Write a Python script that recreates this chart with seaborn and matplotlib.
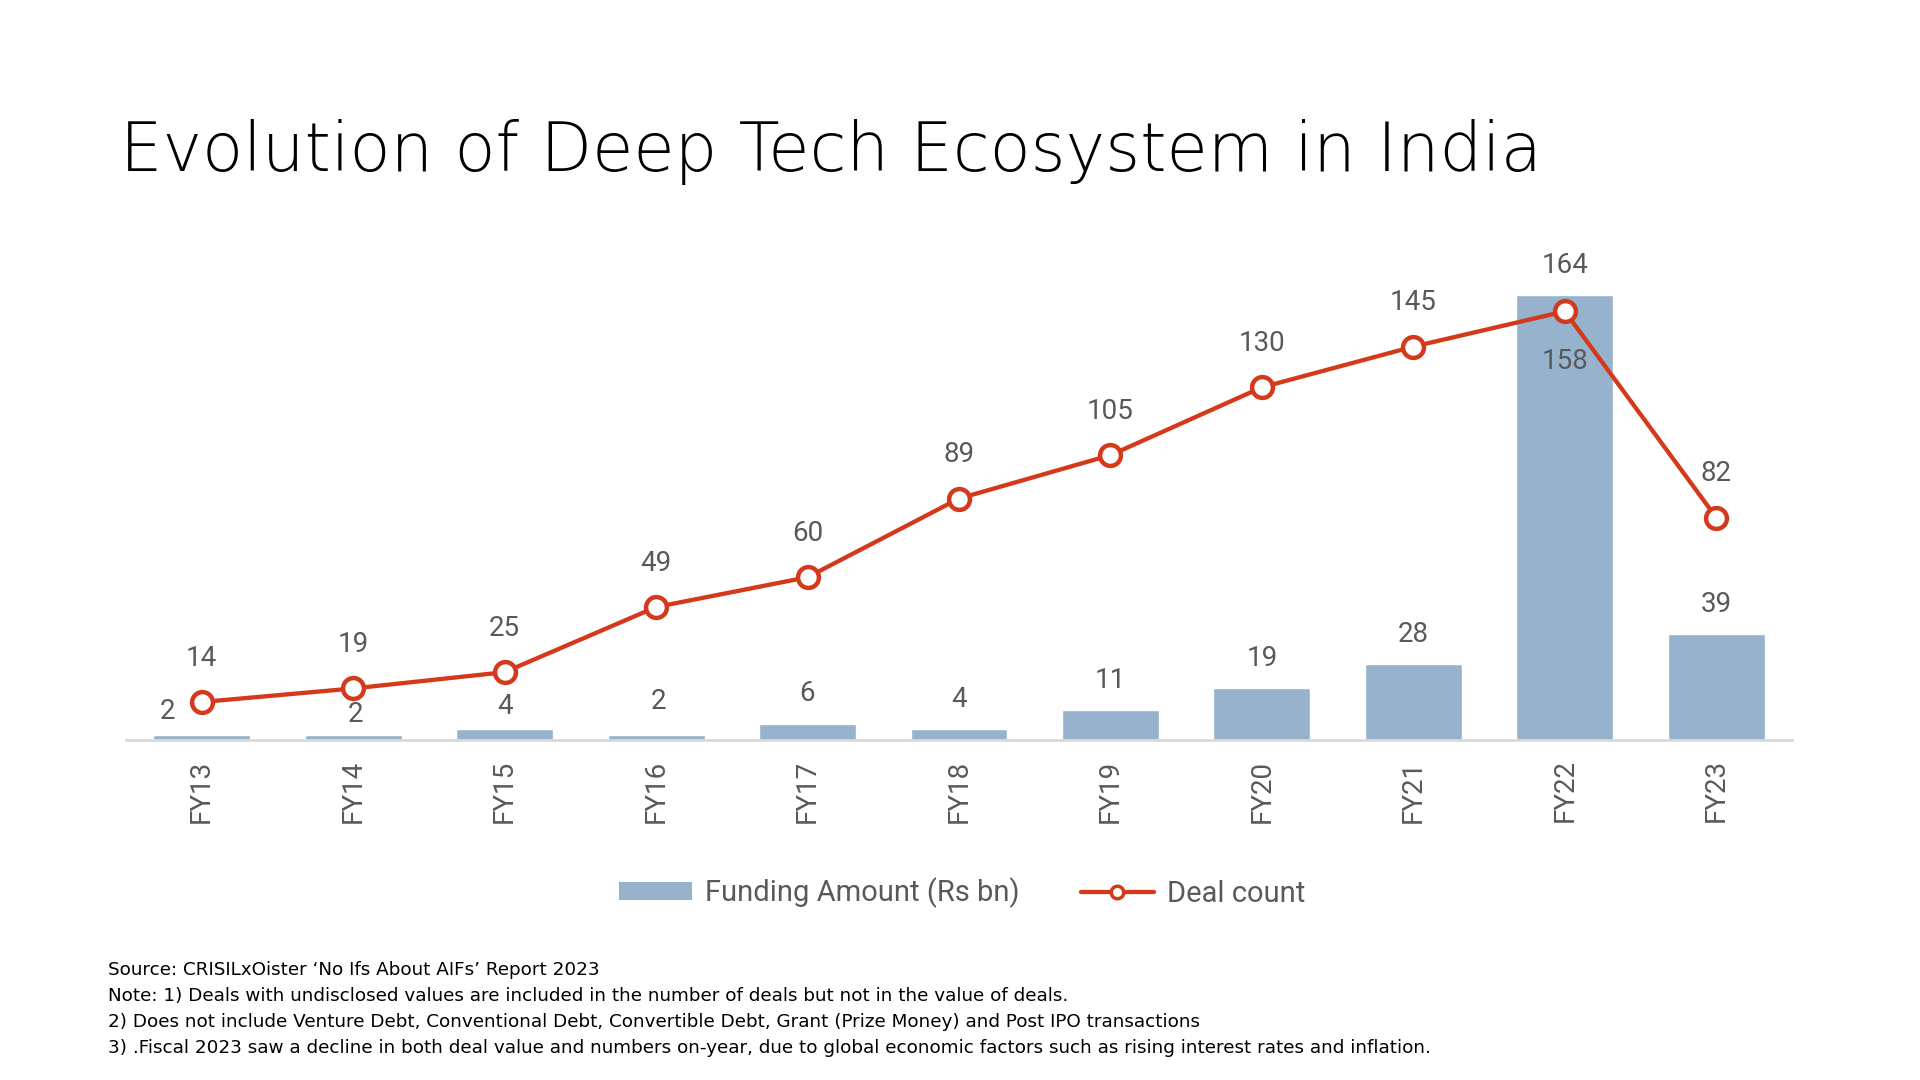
import matplotlib
matplotlib.use("Agg")
import matplotlib.pyplot as plt
import seaborn as sns
import pandas as pd
from matplotlib.patches import Patch
from matplotlib.lines import Line2D

years = ["FY13", "FY14", "FY15", "FY16", "FY17", "FY18", "FY19", "FY20", "FY21", "FY22", "FY23"]
funding = [2, 2, 4, 2, 6, 4, 11, 19, 28, 164, 39]
deals = [14, 19, 25, 49, 60, 89, 105, 130, 145, 158, 82]

title = "Evolution of Deep Tech Ecosystem in India"
notes = [
    "Source: CRISILxOister \u2018No Ifs About AIFs\u2019 Report 2023",
    "Note: 1) Deals with undisclosed values are included in the number of deals but not in the value of deals.",
    "2) Does not include Venture Debt, Conventional Debt, Convertible Debt, Grant (Prize Money) and Post IPO transactions",
    "3) .Fiscal 2023 saw a decline in both deal value and numbers on-year, due to global economic factors such as rising interest rates and inflation.",
]

BAR = "#96B2CC"
RED = "#D5391C"
GRAY = "#595959"

sns.set_theme(style="white")
plt.rcParams["font.family"] = ["Roboto", "DejaVu Sans"]

df = pd.DataFrame({"year": years, "funding": funding, "deals": deals})

fig = plt.figure(figsize=(19.2, 10.8), dpi=100)
ax = fig.add_axes([126 / 1920, 340 / 1080, 1666 / 1920, 500 / 1080])

sns.barplot(data=df, x="year", y="funding", color=BAR, width=0.64,
            saturation=1, ax=ax, zorder=1)
sns.pointplot(data=df, x="year", y="deals", color=RED, markers="o",
              linestyles="-", ax=ax, linewidth=3.1, markersize=15,
              markerfacecolor="white", markeredgewidth=3.2, zorder=3)
for ln in ax.lines:
    ln.set_markerfacecolor("white")
    ln.set_markeredgecolor(RED)
    ln.set_markeredgewidth(3.2)
    ln.set_zorder(3)

ax.set_xlim(-0.5, len(years) - 0.5)
ax.set_ylim(0, 500 / 2.713)
ax.set_xlabel("")
ax.set_ylabel("")
ax.set_yticks([])
for s in ["top", "right", "left"]:
    ax.spines[s].set_visible(False)
ax.spines["bottom"].set_color("#D9D9D9")
ax.spines["bottom"].set_linewidth(2)
ax.tick_params(axis="x", length=0, pad=14, labelsize=20, labelcolor=GRAY, rotation=90)

# bar labels (offsets in pixels)
bar_off = {0: (-34, 23), 1: (2, 20), 2: (0, 23), 3: (2, 33)}
for i, v in enumerate(funding):
    dx, dy = bar_off.get(i, (0, 30))
    ax.annotate(str(v), (i, v), xytext=(dx, dy), textcoords="offset pixels",
                ha="center", va="center", fontsize=20, color=GRAY, zorder=5)

# line labels
for i, v in enumerate(deals):
    dy = -50 if i == 9 else 44
    ax.annotate(str(v), (i, v), xytext=(0, dy), textcoords="offset pixels",
                ha="center", va="center", fontsize=20, color=GRAY, zorder=5)

handles = [Patch(facecolor=BAR, edgecolor="none"),
           Line2D([0], [0], color=RED, lw=3.1, marker="o", markersize=9,
                  markerfacecolor="white", markeredgecolor=RED, markeredgewidth=2.5)]
leg = fig.legend(handles, ["Funding Amount (Rs bn)", "Deal count"],
                 loc="center", bbox_to_anchor=(962 / 1920, 1 - 893 / 1080),
                 ncol=2, frameon=False, fontsize=21, labelcolor=GRAY,
                 handlelength=2.5, handleheight=0.55, columnspacing=2.1,
                 handletextpad=0.45)

fig.text(120 / 1920, 1 - 171 / 1080, title, fontsize=48.3, color="black",
         family=["DejaVu Sans"], weight="light", ha="left", va="baseline")

for k, line in enumerate(notes):
    fig.text(108 / 1920, 1 - (970 + 26 * k) / 1080, line, fontsize=13.2,
             color="black", family=["DejaVu Sans"], ha="left", va="center")

fig.savefig("out.png", dpi=100, facecolor="white")
